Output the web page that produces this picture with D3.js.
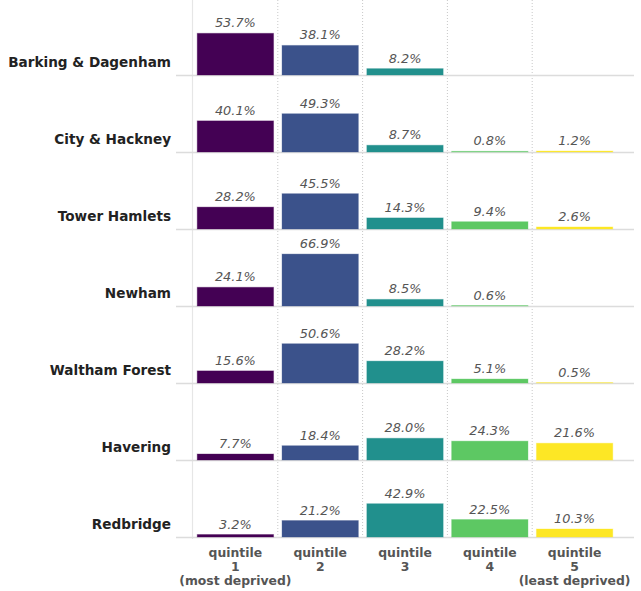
<!DOCTYPE html>
<html>
<head>
<meta charset="utf-8">
<script src="https://cdn.jsdelivr.net/npm/d3@7"></script>
<style>
  html, body { margin: 0; padding: 0; background: #fff; }
  svg { display: block; }
</style>
</head>
<body>
<svg id="chart" width="641" height="591"></svg>
<script>
// ---- data ----
const boroughs = ["Barking & Dagenham", "City & Hackney", "Tower Hamlets", "Newham", "Waltham Forest", "Havering", "Redbridge"];
const quintiles = ["q1", "q2", "q3", "q4", "q5"];
const quintileLabels = [
  ["quintile", "1", "(most deprived)"],
  ["quintile", "2"],
  ["quintile", "3"],
  ["quintile", "4"],
  ["quintile", "5", "(least deprived)"]
];
const q1 = [53.7, 40.1, 28.2, 24.1, 15.6, 7.7, 3.2];
const q2 = [38.1, 49.3, 45.5, 66.9, 50.6, 18.4, 21.2];
const q3 = [8.2, 8.7, 14.3, 8.5, 28.2, 28.0, 42.9];
const q4 = [null, 0.8, 9.4, 0.6, 5.1, 24.3, 22.5];
const q5 = [null, 1.2, 2.6, null, 0.5, 21.6, 10.3];
const colors = ["#440154", "#3b528b", "#21908d", "#5dc863", "#fde725"];

const series = [q1, q2, q3, q4, q5];
const rows = boroughs.map((b, i) => ({
  borough: b,
  values: quintiles.map((q, j) => ({ q, j, v: series[j][i] })).filter(d => d.v != null)
}));

// ---- layout ----
const svg = d3.select("#chart");
const firstBase = 75, rowStep = 77;
const x = d3.scaleBand().domain(quintiles).range([193, 617]).paddingInner(0.1).paddingOuter(0.05);
const yRow = d3.scalePoint().domain(boroughs).range([firstBase, firstBase + rowStep * (boroughs.length - 1)]);
const h = d3.scaleLinear().domain([0, 100]).range([0, 77.6]);
const lastBase = yRow(boroughs[boroughs.length - 1]);

// grid
svg.append("line")
  .attr("x1", 192.5).attr("x2", 192.5).attr("y1", 0).attr("y2", lastBase + 2)
  .attr("stroke", "#e6e6e6").attr("stroke-width", 1.2);

const step = x.step();
svg.selectAll("line.vgrid").data(quintiles.slice(1)).join("line")
  .attr("class", "vgrid")
  .attr("x1", d => x(d) - step * 0.05).attr("x2", d => x(d) - step * 0.05)
  .attr("y1", 0).attr("y2", lastBase + 2)
  .attr("stroke", "#c8c8c8").attr("stroke-width", 1).attr("stroke-dasharray", "1,2");

svg.selectAll("line.base").data(boroughs).join("line")
  .attr("class", "base")
  .attr("x1", 176).attr("x2", 634)
  .attr("y1", d => yRow(d) + 0.5).attr("y2", d => yRow(d) + 0.5)
  .attr("stroke", "#dcdcdc").attr("stroke-width", 1.5);

// rows
const g = svg.selectAll("g.row").data(rows).join("g")
  .attr("class", "row")
  .attr("transform", d => `translate(0,${yRow(d.borough)})`);

g.append("text")
  .attr("x", 171).attr("y", -8)
  .attr("text-anchor", "end")
  .attr("font-family", "DejaVu Sans")
  .attr("font-weight", "bold")
  .attr("font-size", "13.6px")
  .attr("fill", "#222")
  .text(d => d.borough);

g.selectAll("rect").data(d => d.values).join("rect")
  .attr("x", d => x(d.q))
  .attr("width", x.bandwidth())
  .attr("y", d => -h(d.v))
  .attr("height", d => h(d.v))
  .attr("fill", d => colors[d.j])
  .attr("stroke", d => colors[d.j])
  .attr("stroke-opacity", 0.35)
  .attr("stroke-width", 1);

g.selectAll("text.val").data(d => d.values).join("text")
  .attr("class", "val")
  .attr("x", d => x(d.q) + x.bandwidth() / 2)
  .attr("y", d => -h(d.v) - 6)
  .attr("text-anchor", "middle")
  .attr("font-family", "DejaVu Sans")
  .attr("font-style", "italic")
  .attr("font-size", "12.9px")
  .attr("fill", "#555")
  .text(d => d.v.toFixed(1) + "%");

// x axis labels
const ax = svg.append("g");
quintiles.forEach((q, j) => {
  const t = ax.append("text")
    .attr("x", x(q) + x.bandwidth() / 2)
    .attr("y", lastBase + 20)
    .attr("text-anchor", "middle")
    .attr("font-family", "DejaVu Sans")
    .attr("font-weight", "bold")
    .attr("font-size", "12.4px")
    .attr("fill", "#555");
  quintileLabels[j].forEach((line, k) => {
    t.append("tspan")
      .attr("x", x(q) + x.bandwidth() / 2)
      .attr("dy", k === 0 ? 0 : 14)
      .text(line);
  });
});
</script>
</body>
</html>
